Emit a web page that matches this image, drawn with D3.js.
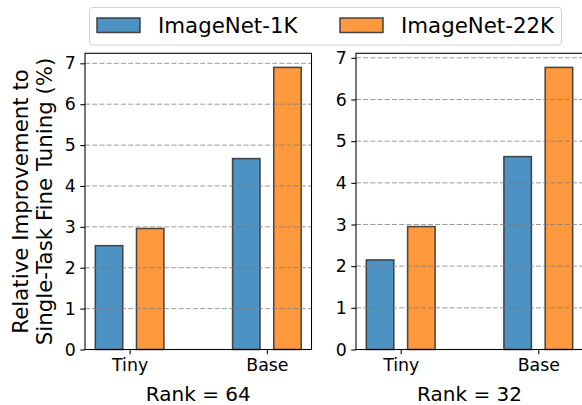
<!DOCTYPE html>
<html>
<head>
<meta charset="utf-8">
<script src="https://cdn.jsdelivr.net/npm/d3@7"></script>
<style>
  html, body { margin: 0; padding: 0; background: #fff; }
  svg { display: block; font-family: "DejaVu Sans", sans-serif; }
</style>
</head>
<body>
<svg id="chart" width="582" height="405"></svg>
<script>
// Model sizes on the x axis
const categories = ["Tiny", "Base"];
// Pretraining datasets (one bar each per model size)
const seriesNames = ["ImageNet-1K", "ImageNet-22K"];
const seriesColors = ["#4c92c3", "#ff993e"];
// Relative improvement (%) per rank setting
const rank64In1k = [2.54, 4.67];
const rank64In22k = [2.96, 6.90];
const rank32In1k = [2.15, 4.63];
const rank32In22k = [2.95, 6.77];
const yTicks = [0, 1, 2, 3, 4, 5, 6, 7];
const panelTitles = ["Rank = 64", "Rank = 32"];

const panels = [
  { title: panelTitles[0], values: [rank64In1k, rank64In22k], x0: 85, x1: 311.5 },
  { title: panelTitles[1], values: [rank32In1k, rank32In22k], x0: 356, x1: 583 }
];

const svg = d3.select("#chart");
const plotTop = 53.3, plotBottom = 349.5;
const barW = 0.2, offset = 0.15;

panels.forEach((p, pi) => {
  const maxVal = d3.max(p.values.flat());
  const x = d3.scaleLinear().domain([-0.325, 1.325]).range([p.x0, p.x1]);
  const y = d3.scaleLinear().domain([0, maxVal * 1.05]).range([plotBottom, plotTop]);
  const g = svg.append("g");

  // bars
  p.values.forEach((vals, si) => {
    g.selectAll(null).data(vals).enter().append("rect")
      .attr("x", (d, i) => x(i + (si === 0 ? -offset : offset) - barW / 2))
      .attr("width", x(barW) - x(0))
      .attr("y", d => y(d))
      .attr("height", d => y(0) - y(d))
      .attr("fill", seriesColors[si])
      .attr("stroke", "#333")
      .attr("stroke-opacity", 0.9)
      .attr("stroke-width", 1.5);
  });

  // dashed horizontal grid, drawn over the bars
  g.selectAll(null).data(yTicks).enter().append("line")
    .attr("x1", p.x0).attr("x2", p.x1)
    .attr("y1", d => y(d)).attr("y2", d => y(d))
    .attr("stroke", "#7a7a7a")
    .attr("stroke-opacity", 0.75)
    .attr("stroke-width", 1)
    .attr("stroke-dasharray", "5,2.2");

  // y axis
  const yAxis = d3.axisLeft(y).tickValues(yTicks).tickFormat(d3.format("d")).tickSize(4.7).tickPadding(4.5);
  const ya = g.append("g").attr("transform", `translate(${p.x0},0)`).call(yAxis);
  ya.select(".domain").remove();
  ya.selectAll("line").attr("stroke", "#000").attr("stroke-width", 1.07);
  ya.selectAll("text").attr("font-size", "17.33px").attr("font-family", "DejaVu Sans").attr("fill", "#000");

  // x axis
  const xAxis = d3.axisBottom(x).tickValues([0, 1]).tickFormat((d, i) => categories[i]).tickSize(4.7).tickPadding(4.5);
  const xa = g.append("g").attr("transform", `translate(0,${plotBottom})`).call(xAxis);
  xa.select(".domain").remove();
  xa.selectAll("line").attr("stroke", "#000").attr("stroke-width", 1.07);
  xa.selectAll("text").attr("font-size", "17.33px").attr("font-family", "DejaVu Sans").attr("fill", "#000");

  // frame
  g.append("rect")
    .attr("x", p.x0).attr("y", plotTop)
    .attr("width", p.x1 - p.x0).attr("height", plotBottom - plotTop)
    .attr("fill", "none").attr("stroke", "#000").attr("stroke-width", 1.07);

  // panel label under the axis
  g.append("text")
    .attr("x", (p.x0 + p.x1) / 2).attr("y", 400.5)
    .attr("text-anchor", "middle")
    .attr("font-size", "20px")
    .text(p.title);
});

// shared y label
const yl = svg.append("text")
  .attr("transform", `translate(0,${(plotTop + plotBottom) / 2}) rotate(-90)`)
  .attr("text-anchor", "middle")
  .attr("font-size", "21.33px");
yl.append("tspan").attr("x", 0).attr("y", 28).text("Relative Improvement to");
yl.append("tspan").attr("x", 0).attr("y", 52).text("Single-Task Fine Tuning (%)");

// legend
const lg = svg.append("g");
lg.append("rect")
  .attr("x", 89.5).attr("y", 7.5).attr("width", 472).attr("height", 37.5)
  .attr("rx", 3).attr("fill", "#fff").attr("stroke", "#d0d0d0").attr("stroke-width", 1);
const legendX = [97, 340];
seriesNames.forEach((name, i) => {
  lg.append("rect")
    .attr("x", legendX[i]).attr("y", 18).attr("width", 43).attr("height", 14.5)
    .attr("fill", seriesColors[i]).attr("stroke", "#333").attr("stroke-opacity", 0.9).attr("stroke-width", 1.5);
  lg.append("text")
    .attr("x", legendX[i] + 61).attr("y", 33)
    .attr("font-size", "21.33px")
    .text(name);
});
</script>
</body>
</html>
